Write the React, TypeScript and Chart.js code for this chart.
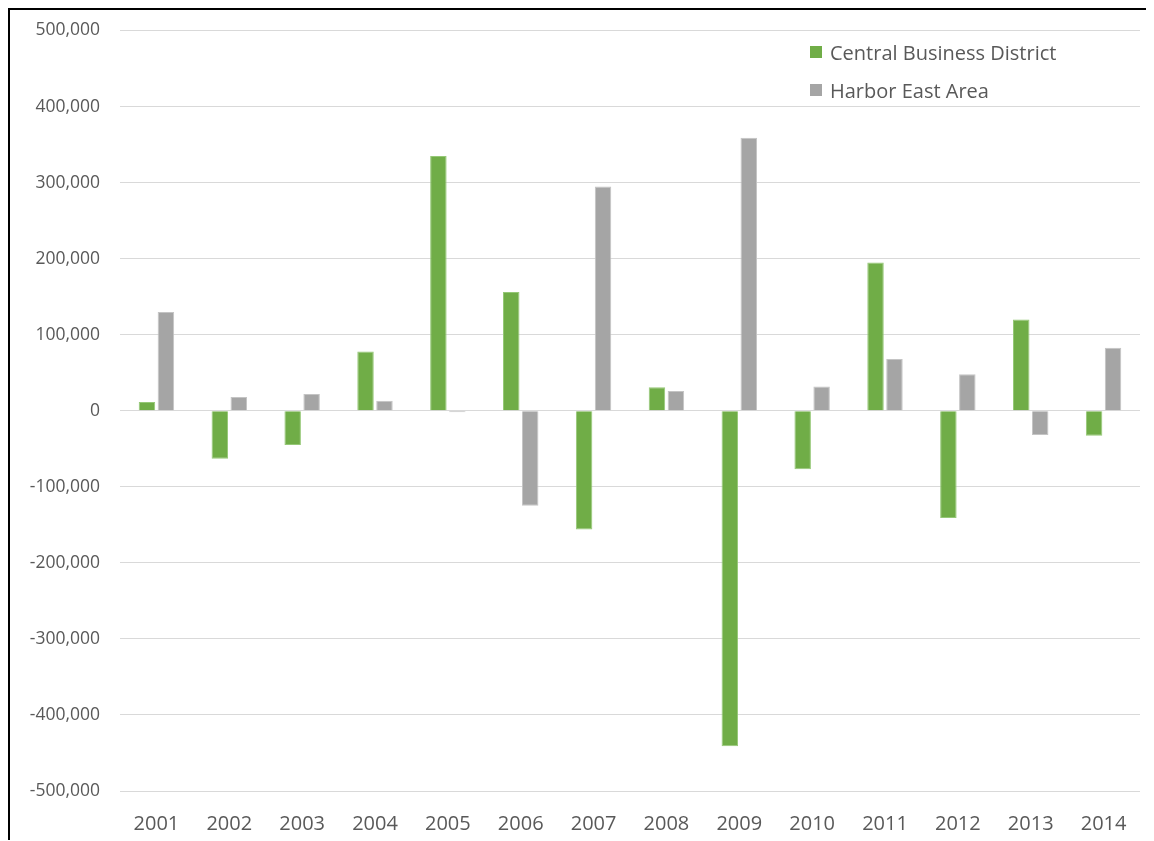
import { useEffect, useRef } from 'react'
import { Chart, registerables } from 'chart.js'

Chart.register(...registerables)

const years = ['2001', '2002', '2003', '2004', '2005', '2006', '2007', '2008', '2009', '2010', '2011', '2012', '2013', '2014']
const cbdValues = [11500, -63000, -45000, 78000, 335000, 156000, -156000, 31000, -441000, -77000, 195000, -141000, 120000, -33000]
const harborValues = [130000, 18000, 22000, 13000, -2000, -125000, 295000, 26000, 359000, 32000, 68000, 48000, -32000, 83000]
const seriesNames = ['Central Business District', 'Harbor East Area']

const GREEN = '#70AD47'
const GRAY = '#A5A5A5'
const FONT = '"Open Sans", "Noto Sans", sans-serif'

export default function App() {
  const chartRef = useRef<HTMLCanvasElement>(null)
  const chartInstance = useRef<Chart | null>(null)

  useEffect(() => {
    if (!chartRef.current) return
    if (chartInstance.current) chartInstance.current.destroy()
    const ctx = chartRef.current.getContext('2d')
    if (!ctx) return

    chartInstance.current = new Chart(ctx, {
      type: 'bar',
      data: {
        labels: years,
        datasets: [
          {
            label: seriesNames[0],
            data: cbdValues,
            backgroundColor: GREEN,
            borderColor: '#95c876',
            borderWidth: 1,
            categoryPercentage: 0.52,
            barPercentage: 0.87
          },
          {
            label: seriesNames[1],
            data: harborValues,
            backgroundColor: GRAY,
            borderColor: '#c4c4c4',
            borderWidth: 1,
            categoryPercentage: 0.52,
            barPercentage: 0.87
          }
        ]
      },
      options: {
        animation: false,
        responsive: true,
        maintainAspectRatio: false,
        layout: { padding: { top: 0, right: 14, bottom: 0, left: 0 } },
        plugins: {
          legend: { display: false },
          tooltip: { enabled: false }
        },
        scales: {
          x: {
            grid: { display: false },
            border: { display: false },
            ticks: {
              color: '#595959',
              padding: 13,
              font: { family: FONT, size: 20 }
            },
            afterFit: (scale) => { scale.height = 50 }
          },
          y: {
            min: -500000,
            max: 500000,
            border: { display: false },
            grid: { color: '#d9d9d9', drawTicks: false },
            ticks: {
              stepSize: 100000,
              color: '#595959',
              padding: 20,
              font: { family: FONT, size: 17.5 },
              callback: (value) => Number(value).toLocaleString('en-US')
            },
            afterFit: (scale) => { scale.width = 110 }
          }
        }
      }
    })

    return () => {
      if (chartInstance.current) chartInstance.current.destroy()
    }
  }, [])

  return (
    <div style={{ borderTop: '2px solid #000', borderLeft: '2px solid #000', width: 1146, height: 832, boxSizing: 'border-box', position: 'relative', background: '#fff' }}>
      <div style={{ position: 'absolute', left: 0, top: -10, width: 1144, height: 841 }}>
        <canvas ref={chartRef}></canvas>
      </div>
      {/* legend inside the plot area, top right */}
      <div style={{ position: 'absolute', left: 800, top: 23, fontFamily: FONT, fontSize: 20, color: '#595959' }}>
        {seriesNames.map((name, i) => (
          <div key={name} style={{ display: 'flex', alignItems: 'center', height: 38 }}>
            <span style={{ display: 'inline-block', width: 12, height: 12, background: i === 0 ? GREEN : GRAY, marginRight: 8 }}></span>
            <span>{name}</span>
          </div>
        ))}
      </div>
    </div>
  )
}
